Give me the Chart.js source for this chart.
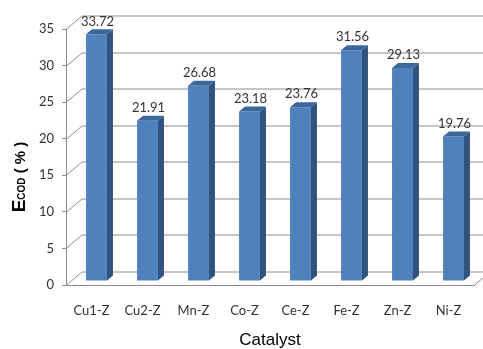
<!DOCTYPE html>
<html>
<head>
<meta charset="UTF-8">
<title>Ecod by catalyst</title>
<style>
  body { margin: 0; background: #fff; }
  .wrap { width: 483px; height: 349px; }
</style>
<script src="https://cdn.jsdelivr.net/npm/chart.js"></script>
</head>
<body>
<div class="wrap"><canvas id="c" width="483" height="349"></canvas></div>
<script>
// data
const catalysts = ['Cu1-Z', 'Cu2-Z', 'Mn-Z', 'Co-Z', 'Ce-Z', 'Fe-Z', 'Zn-Z', 'Ni-Z'];
const ecod = [33.72, 21.91, 26.68, 23.18, 23.76, 31.56, 29.13, 19.76];
const yTicks = [0, 5, 10, 15, 20, 25, 30, 35];

// fake 3D look (Excel style)
const wallDx = 16, wallDy = -13.5;   // back wall offset
const barDx = 5, barDy = -4;         // bars sit a bit inside the box
const bx = 6, by = -5;               // bar depth
const lineCol = '#8c8c8c';
const frontCol = '#4f81bd', sideCol = '#30527f', topCol = '#3c679b';
const labelFont = '13px Lato';

const box3d = {
  id: 'box3d',
  beforeDatasetsDraw(chart) {
    const {ctx, chartArea: a, scales: {y}} = chart;
    ctx.save();
    ctx.strokeStyle = lineCol;
    ctx.lineWidth = 1;
    ctx.beginPath();
    yTicks.forEach(v => {
      const py = Math.round(y.getPixelForValue(v)) + 0.5;
      ctx.moveTo(a.left, py);
      ctx.lineTo(a.left + wallDx, py + wallDy);
      ctx.lineTo(a.right + wallDx, py + wallDy);
    });
    const b = Math.round(y.getPixelForValue(0)) + 0.5;
    ctx.moveTo(a.right, b);
    ctx.lineTo(a.right + wallDx, b + wallDy);
    ctx.stroke();
    ctx.restore();
    // front faces are drawn by chart.js, just pushed back a little
    ctx.save();
    ctx.translate(barDx, barDy);
  },
  afterDatasetsDraw(chart) {
    const ctx = chart.ctx;
    ctx.restore();
    const meta = chart.getDatasetMeta(0);
    ctx.save();
    meta.data.forEach((bar, i) => {
      const p = bar.getProps(['x', 'y', 'base', 'width'], true);
      const l = p.x - p.width / 2 + barDx, r = p.x + p.width / 2 + barDx;
      const t = p.y + barDy, b = p.base + barDy;
      ctx.fillStyle = sideCol;
      ctx.beginPath();
      ctx.moveTo(r, t);
      ctx.lineTo(r + bx, t + by);
      ctx.lineTo(r + bx, b + by);
      ctx.lineTo(r, b);
      ctx.closePath();
      ctx.fill();
      ctx.fillStyle = topCol;
      ctx.beginPath();
      ctx.moveTo(l, t);
      ctx.lineTo(l + bx, t + by);
      ctx.lineTo(r + bx, t + by);
      ctx.lineTo(r, t);
      ctx.closePath();
      ctx.fill();
      ctx.fillStyle = '#333';
      ctx.font = labelFont;
      ctx.textAlign = 'center';
      ctx.textBaseline = 'middle';
      ctx.fillText(ecod[i].toFixed(2), p.x + barDx + bx / 2 - 2, t - 13);
    });
    ctx.restore();
  },
  afterDraw(chart) {
    // y title: E with small-caps "COD", then ( % )
    const ctx = chart.ctx;
    const parts = [
      ['E', 'bold 19px "Liberation Sans"'],
      ['COD', 'bold 10px "Liberation Sans"'],
      [' ( % )', 'bold 15px "Liberation Sans"']
    ];
    ctx.save();
    let total = 0;
    parts.forEach(pt => { ctx.font = pt[1]; total += ctx.measureText(pt[0]).width; });
    ctx.translate(25, 177);
    ctx.rotate(-Math.PI / 2);
    ctx.fillStyle = '#000';
    ctx.textBaseline = 'alphabetic';
    let x = -total / 2;
    parts.forEach(pt => {
      ctx.font = pt[1];
      ctx.fillText(pt[0], x, 0);
      x += ctx.measureText(pt[0]).width;
    });
    ctx.restore();
  }
};

new Chart(document.getElementById('c'), {
  type: 'bar',
  data: {
    labels: catalysts,
    datasets: [{
      data: ecod,
      backgroundColor: frontCol,
      borderWidth: 0,
      categoryPercentage: 1,
      barPercentage: 0.41,
      clip: false
    }]
  },
  options: {
    responsive: false,
    animation: false,
    layout: { padding: { left: 0, right: 9, top: 29, bottom: 0 } },
    plugins: { legend: { display: false }, tooltip: { enabled: false } },
    scales: {
      x: {
        afterFit(s) { s.height = 64; },
        grid: { display: false, drawTicks: false },
        border: { display: true, color: lineCol, width: 1 },
        ticks: { color: '#333', font: { family: 'Lato', size: 13 }, padding: 18 },
        title: {
          display: true, text: 'Catalyst', color: '#000',
          font: { family: 'Liberation Sans', size: 17, lineHeight: 1 },
          padding: { top: 0, bottom: 0 }
        }
      },
      y: {
        min: 0, max: 35,
        afterFit(s) { s.width = 66; },
        afterBuildTicks(s) { s.ticks = yTicks.map(v => ({ value: v })); },
        grid: { display: true, drawOnChartArea: false, drawTicks: true, tickLength: 4, color: lineCol },
        border: { display: true, color: lineCol, width: 1 },
        ticks: { color: '#333', font: { family: 'Lato', size: 13 }, padding: 8 }
      }
    }
  },
  plugins: [box3d]
});
</script>
</body>
</html>
